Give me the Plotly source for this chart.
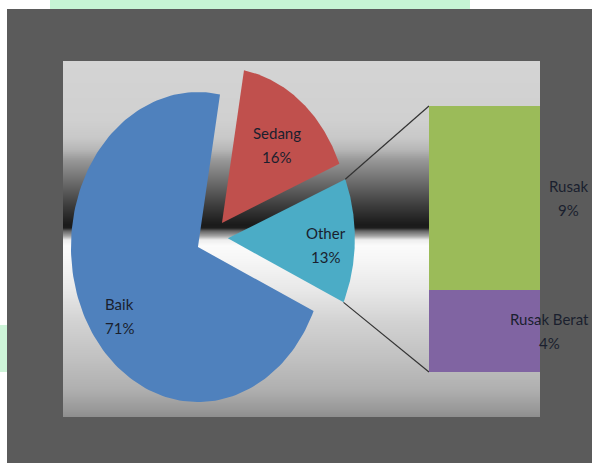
import numpy as np
import plotly.graph_objects as go

W, H = 592, 463

# ---- data -------------------------------------------------------------
main_labels = ["Baik", "Sedang"]
main_values = [71, 16]
sub_labels = ["Rusak", "Rusak Berat"]
sub_values = [9, 4]
other_label = "Other"

# ---- styling ----------------------------------------------------------
main_colors = ["#4f81bd", "#c0504d"]
other_color = "#4bacc6"
sub_colors = ["#9bbb59", "#8064a2"]
FRAME_COLOR = "#5b5b5b"
TEXT_COLOR = "#1a1f2e"
FONT = "Lato"
FSIZE = 15

# geometry in pixels (pixel axis spans the whole figure)
CX, CY = 212, 238          # pie centre
RX, RY = 127, 155          # pie radii
PULL = 0.125               # explosion, fraction of radius
START = 114.4              # angle (deg, clockwise from 12 o'clock) of first slice
BAR_X0, BAR_X1 = 429, 540
BAR_Y0, BAR_Y1 = 106, 372
PLOT_X0, PLOT_X1, PLOT_Y0, PLOT_Y1 = 63, 540, 61, 417
LABEL_POS = {"Baik": (0.76, -8), "Sedang": (0.66, 2), "Other": (0.77, 2)}
SUB_LABEL_X = [568, 549]
LINE_GAP = 12

fig = go.Figure()


def px(x):
    return x / W


def py(y):
    return 1 - y / H


# ---- background: white margin strips, metallic plot area -----------------
shapes = []
shapes.append(dict(type="rect", xref="paper", yref="paper", x0=0, x1=1,
                   y0=py(9), y1=1, fillcolor="white", line_width=0, layer="below"))
shapes.append(dict(type="rect", xref="paper", yref="paper", x0=0, x1=px(7),
                   y0=0, y1=1, fillcolor="white", line_width=0, layer="below"))
shapes.append(dict(type="rect", xref="paper", yref="paper", x0=px(50), x1=px(470),
                   y0=py(9), y1=1, fillcolor="#c6f5d4", line_width=0, layer="below"))
shapes.append(dict(type="rect", xref="paper", yref="paper", x0=0, x1=px(7),
                   y0=py(372), y1=py(325), fillcolor="#cdf4d8", line_width=0, layer="below"))

stop_y = [61, 120, 138, 150, 160, 175, 190, 205, 218, 225, 228, 231, 236, 240, 246,
          260, 290, 322, 360, 390, 410, 417]
stop_g = [212, 208, 200, 182, 152, 122, 92, 62, 38, 26, 30, 100, 165, 238, 251,
          246, 232, 210, 192, 175, 152, 142]
for row in range(PLOT_Y0, PLOT_Y1):
    g = int(round(np.interp(row + 0.5, stop_y, stop_g)))
    shapes.append(dict(type="rect", xref="paper", yref="paper",
                       x0=px(PLOT_X0), x1=px(PLOT_X1), y0=py(row + 1), y1=py(row),
                       fillcolor=f"rgb({g},{g},{g})", line_width=0, layer="below"))

# ---- exploded pie ------------------------------------------------------
pie_labels = main_labels + [other_label]
pie_values = main_values + [sum(sub_values)]
pie_colors = main_colors + [other_color]
total = sum(pie_values)

annotations = []


def add_label(x, y, name, pct):
    for txt, shift in ((name, -LINE_GAP), (pct, LINE_GAP)):
        annotations.append(dict(x=x, y=y + shift, xref="x", yref="y", text=txt,
                                showarrow=False, xanchor="center", yanchor="middle",
                                font=dict(family=FONT, size=FSIZE, color=TEXT_COLOR)))


cum = 0.0
other_edges = None
for lab, val, col in zip(pie_labels, pie_values, pie_colors):
    a0 = START + cum / total * 360
    a1 = a0 + val / total * 360
    cum += val
    mid = np.radians((a0 + a1) / 2)
    vx = CX + PULL * RX * np.sin(mid)
    vy = CY - PULL * RY * np.cos(mid)
    t = np.radians(np.linspace(a0, a1, 160))
    xs = np.concatenate([[vx], vx + RX * np.sin(t), [vx]])
    ys = np.concatenate([[vy], vy - RY * np.cos(t), [vy]])
    fig.add_trace(go.Scatter(x=xs, y=ys, mode="lines", fill="toself", fillcolor=col,
                             line=dict(width=0, color=col), hoverinfo="skip",
                             showlegend=False, xaxis="x", yaxis="y"))
    frac, dang = LABEL_POS[lab]
    la = mid + np.radians(dang)
    lx = vx + frac * RX * np.sin(la)
    ly = vy - frac * RY * np.cos(la)
    add_label(lx, ly, lab, f"{round(val / total * 100)}%")
    if lab == other_label:
        ta, tb = np.radians(a0), np.radians(a1)
        other_edges = ((vx + RX * np.sin(ta), vy - RY * np.cos(ta)),
                       (vx + RX * np.sin(tb), vy - RY * np.cos(tb)))

# connector lines from the "Other" slice to the bar
(ux, uy), (dx, dy) = other_edges
for (sx, sy), (ex, ey) in (((ux, uy), (BAR_X0, BAR_Y0)), ((dx, dy), (BAR_X0, BAR_Y1))):
    fig.add_trace(go.Scatter(x=[sx, ex], y=[sy, ey], mode="lines",
                             line=dict(color="#333333", width=1.2), hoverinfo="skip",
                             showlegend=False, xaxis="x", yaxis="y"))

# ---- stacked breakdown bar --------------------------------------------
sub_total = sum(sub_values)
for lab, val, col in reversed(list(zip(sub_labels, sub_values, sub_colors))):
    fig.add_trace(go.Bar(x=[0], y=[val], name=lab, marker=dict(color=col, line_width=0),
                         width=1, hoverinfo="skip", showlegend=False,
                         xaxis="x2", yaxis="y2"))

base = 0
seg_centres = {}
for lab, val in reversed(list(zip(sub_labels, sub_values))):
    seg_centres[lab] = base + val / 2
    base += val
for lab, val, lxp in zip(sub_labels, sub_values, SUB_LABEL_X):
    cy_pix = BAR_Y1 - seg_centres[lab] / sub_total * (BAR_Y1 - BAR_Y0)
    add_label(lxp, cy_pix, lab, f"{round(val / total * 100)}%")

ax_off = dict(visible=False, showgrid=False, zeroline=False, fixedrange=True)
fig.update_layout(
    width=W, height=H,
    autosize=False,
    margin=dict(l=0, r=0, t=0, b=0, pad=0),
    paper_bgcolor=FRAME_COLOR,
    plot_bgcolor="rgba(0,0,0,0)",
    barmode="stack", bargap=0,
    xaxis=dict(domain=[0, 1], range=[0, W], **ax_off),
    yaxis=dict(domain=[0, 1], range=[H, 0], **ax_off),
    xaxis2=dict(domain=[BAR_X0 / W, BAR_X1 / W], range=[-0.5, 0.5], anchor="y2", **ax_off),
    yaxis2=dict(domain=[1 - BAR_Y1 / H, 1 - BAR_Y0 / H], range=[0, sub_total],
                anchor="x2", **ax_off),
    shapes=shapes,
    annotations=annotations,
    showlegend=False,
)

fig.write_html("out.html")
